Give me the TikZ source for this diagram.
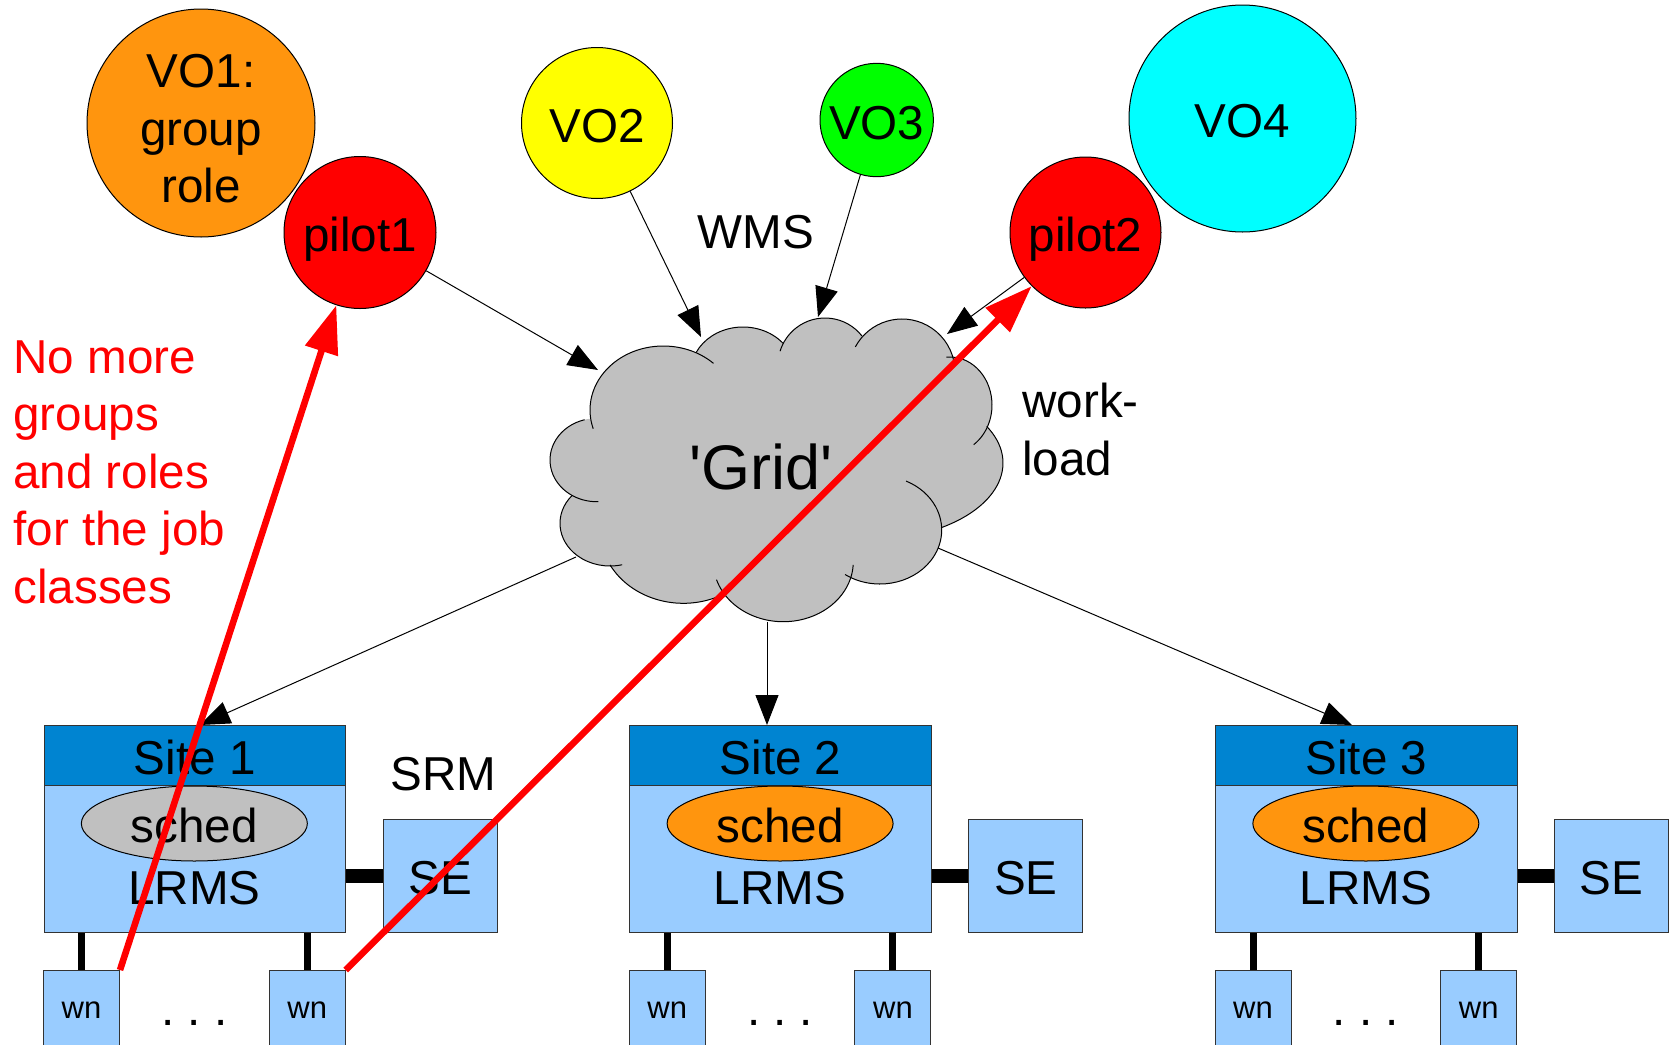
\documentclass[tikz,border=0pt]{standalone}
\usepackage{fontspec}
\setmainfont{Liberation Sans}
\usetikzlibrary{arrows.meta,shapes.geometric}
\definecolor{voorange}{HTML}{FF950E}
\definecolor{voyellow}{HTML}{FFFF00}
\definecolor{vogreen}{HTML}{00FF00}
\definecolor{vocyan}{HTML}{00FFFF}
\definecolor{pilotred}{HTML}{FF0000}
\definecolor{cloudgray}{HTML}{C0C0C0}
\definecolor{hdrblue}{HTML}{0084D1}
\definecolor{boxblue}{HTML}{99CCFF}
\definecolor{edge}{HTML}{333333}
\begin{document}
\begin{tikzpicture}[x=0.5pt,y=-0.5pt,
  mainfont/.style={font=\fontsize{23.8pt}{28.8pt}\selectfont},
  txt/.style={inner sep=0pt, mainfont},
  circ/.style={circle, draw=black, line width=0.5pt, inner sep=0pt, mainfont},
  vo/.style={circ, text height=19pt, text depth=0pt},
  blk/.style={draw=black, line width=0.5pt, -{Triangle[length=15pt,width=11.5pt]}},
  redarr/.style={draw=pilotred, line width=3.3pt, -{Triangle[length=24pt,width=16.5pt]}},
  hdr/.style={rectangle, draw=edge, line width=0.5pt, fill=hdrblue, inner sep=0pt,
    minimum width=150.85pt, minimum height=30pt, text height=19pt, text depth=0pt, mainfont},
  bodybox/.style={rectangle, draw=edge, line width=0.5pt, fill=boxblue, inner sep=0pt,
    minimum width=150.85pt, minimum height=73.35pt},
  schedst/.style={ellipse, draw=black, line width=0.5pt, inner sep=0pt,
    minimum width=113pt, minimum height=37.5pt, text height=18.5pt, text depth=0pt, mainfont},
  sebox/.style={rectangle, draw=edge, line width=0.5pt, fill=boxblue, inner sep=0pt,
    minimum width=57pt, minimum height=56.85pt, text height=19pt, text depth=0pt, mainfont},
  wnbox/.style={rectangle, draw=edge, line width=0.5pt, fill=boxblue, inner sep=0pt,
    minimum width=38pt, minimum height=48pt, text height=0pt, text depth=0pt,
    font=\fontsize{15.5pt}{18pt}\selectfont},
  hbar/.style={draw=black, line width=7pt},
  vbar/.style={draw=black, line width=3.5pt}]

\useasboundingbox (0,0) rectangle (1672,1045);
\clip (0,0) rectangle (1672,1045);
\fill[white] (0,0) rectangle (1672,1045);

% virtual organisations and their pilots
\node[circ, fill=voorange, minimum size=114pt] (vo1) at (201,123) {};
\node[txt, align=center] (vo1label) at (201,129) {VO1:\\group\\role};
\node[vo, fill=pilotred, minimum size=76pt] (pilot1) at (360,232.5) {pilot1};
\node[vo, fill=voyellow, minimum size=75.5pt] (vo2) at (597,123) {VO2};
\node[vo, fill=vogreen, minimum size=56.7pt] (vo3) at (876.7,120) {VO3};
\node[vo, fill=vocyan, minimum size=113.5pt] (vo4) at (1242.5,118.5) {VO4};
\node[vo, fill=pilotred, minimum size=75.5pt] (pilot2) at (1085.5,232.5) {pilot2};

% the grid cloud: elliptical lobes (centre x, centre y, radii, visible arc)
\def\lobes{663.3/410/73.3/64/-46.8/-197,
  596.7/460/46.7/41.7/255/88,
  610/523.3/50/42.7/220.5/76,
  683.3/530/83.3/73.3/151.5/65.7,
  783.3/561.7/70/60/162.6/3,
  880/530/61.7/54/124.5/-65,
  868/463/135/77/-28.4/57.2,
  950/405/42/48/-95/55.7,
  902/372/53/53/-151.7/-12,
  825/365/47/47/-38/-162.9,
  743/372/52/45/-39.5/-154.3}
\foreach \cx/\cy/\rx/\ry/\a/\b in \lobes
  \fill[cloudgray] (\cx,\cy) ellipse[x radius=\rx, y radius=\ry];
\fill[cloudgray] (591.7,420) -- (573.3,496.7) -- (610,565) -- (718.3,598.3)
  -- (846.7,576.7) -- (941.7,528.3) -- (986.7,426.7) -- (951.7,358.3)
  -- (860,335) -- (783.3,343.3) -- (696.7,352.7) -- cycle;
\foreach \cx/\cy/\rx/\ry/\a/\b in \lobes
  \draw[line width=0.5pt] ({\cx+\rx*cos(\a)},{\cy+\ry*sin(\a)})
    arc[start angle=\a, end angle=\b, x radius=\rx, y radius=\ry];
\node[inner sep=0pt, anchor=base, font=\fontsize{31.5pt}{37pt}\selectfont] (grid) at (761,489.3)
  {\textquotesingle Grid\textquotesingle};

% attachment points on the cloud outline
\coordinate (gin1) at (598,370);
\coordinate (gin2) at (701,337);
\coordinate (gin3) at (818,317);
\coordinate (gin4) at (947,334);
\coordinate (gout1) at (576,557);
\coordinate (gout2) at (767,622);
\coordinate (gout3) at (938,548);
\coordinate (t1) at (200,725);
\coordinate (t2) at (767,725);
\coordinate (t3) at (1352,725);

% free labels
\node[txt, anchor=base] (wms) at (756,248.3) {WMS};
\node[txt, anchor=north west, align=left] (work) at (1022,383) {work-\\load};
\node[txt, anchor=base] (srm) at (443.3,790.5) {SRM};
\node[txt, anchor=north west, align=left, text=pilotred] (note) at (13,340)
  {No more\\groups\\and roles\\for the job\\classes};

% sites
\foreach \k/\L/\sc in {1/43.5/cloudgray, 2/629.25/voorange, 3/1215/voorange} {
  \node[bodybox, anchor=north west] (b\k) at (\L,785) {};
  \node[hdr, anchor=north west] (h\k) at (\L,725) {Site \k};
  \node[schedst, fill=\sc] (s\k) at (\L+150.85,823.5) {sched};
  \node[txt, anchor=base] (lrms\k) at (\L+150.85,904) {LRMS};
  \node[sebox] (se\k) at (\L+396.7,875.9) {SE};
  \node[wnbox, anchor=north] (wa\k) at (\L+38,970) {wn};
  \node[wnbox, anchor=north] (wb\k) at (\L+263.7,970) {wn};
  \node[txt, anchor=base] (dots\k) at (\L+150.85,1025.5) {.\ .\ .};
  \draw[hbar] (b\k.east |- se\k.west) -- (se\k.west);
  \draw[vbar] (wa\k.north) -- (wa\k.north |- b\k.south);
  \draw[vbar] (wb\k.north) -- (wb\k.north |- b\k.south);
}

% workload flow
\draw[blk] (pilot1) -- (gin1);
\draw[blk] (vo2) -- (gin2);
\draw[blk] (vo3) -- (gin3);
\draw[blk] (pilot2) -- (gin4);
\draw[blk] (gout1) -- (t1);
\draw[blk] (gout2) -- (t2);
\draw[blk] (gout3) -- (t3);

% pilots started on worker nodes
\draw[redarr] (wa1.north east) -- (pilot1);
\draw[redarr] (wb1.north east) -- (pilot2);
\end{tikzpicture}
\end{document}
